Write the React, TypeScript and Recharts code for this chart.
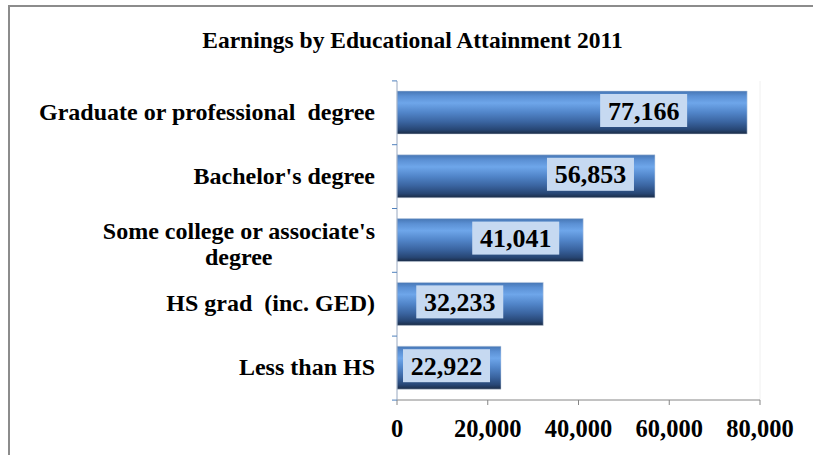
import React from 'react';
import { BarChart, Bar, XAxis, YAxis, LabelList, ReferenceLine } from 'recharts';

// 各學歷類別與 2011 年收入
const categories = [
  'Graduate or professional  degree',
  "Bachelor's degree",
  "Some college or associate's\ndegree",
  'HS grad  (inc. GED)',
  'Less than HS',
];
const earnings = [77166, 56853, 41041, 32233, 22922];
const xTicks = [0, 20000, 40000, 60000, 80000];

const data = categories.map((name, i) => ({ name, value: earnings[i] }));

const FONT = "'Liberation Serif', 'DejaVu Serif', serif";
// 標籤框右緣離長條末端的距離（原圖各標籤位置不一）
const LABEL_GAP = [60, 21, 24, 40, 11];

const fmt = (v: number) => v.toLocaleString('en-US');

let ctx: CanvasRenderingContext2D | null = null;
const measure = (text: string, font: string) => {
  if (!ctx) ctx = document.createElement('canvas').getContext('2d');
  if (!ctx) return text.length * 10;
  ctx.font = font;
  return ctx.measureText(text).width;
};

const CategoryTick = (props: any) => {
  const { x, y, payload, index } = props;
  const lines = String(payload.value).split('\n');
  const right = x - 22;
  const size = 24;
  const font = `bold ${size}px ${FONT}`;
  const marks = (
    <g stroke="#4f81bd" strokeWidth={1}>
      <line x1={x - 5} x2={x} y1={y - 32} y2={y - 32} />
      {index === categories.length - 1 && <line x1={x - 5} x2={x} y1={y + 32} y2={y + 32} />}
    </g>
  );
  if (lines.length === 1) {
    return (
      <g>
        {marks}
        <text x={right} y={y + 7} textAnchor="end" fontFamily={FONT} fontWeight="bold" fontSize={size} fill="#000" style={{ whiteSpace: 'pre' }}>
          {lines[0]}
        </text>
      </g>
    );
  }
  const w = measure(lines[0], font);
  const cx = right - w / 2;
  return (
    <g>
      {marks}
      <text x={right} y={y - 2} textAnchor="end" fontFamily={FONT} fontWeight="bold" fontSize={size} fill="#000">
        {lines[0]}
      </text>
      <text x={cx} y={y + 24} textAnchor="middle" fontFamily={FONT} fontWeight="bold" fontSize={size} fill="#000">
        {lines[1]}
      </text>
    </g>
  );
};

const BarValueLabel = (props: any) => {
  const { x, y, width, height, value, index } = props;
  const boxW = 87;
  const boxH = 33;
  const right = Math.max(x + width - LABEL_GAP[index], x + 2 + boxW);
  const cy = y + height / 2 - 2;
  return (
    <g>
      <rect x={right - boxW} y={cy - boxH / 2} width={boxW} height={boxH} fill="#c6d9f1" />
      <text x={right - boxW / 2} y={cy + 9} textAnchor="middle" fontFamily={FONT} fontWeight="bold" fontSize={26} fill="#000">
        {fmt(value)}
      </text>
    </g>
  );
};

const App: React.FC = () => {
  return (
    <div style={{ position: 'absolute', left: 0, top: 0, width: 813, height: 455, background: '#fff', overflow: 'hidden' }}>
      {/* 外框 */}
      <div style={{ position: 'absolute', left: 8, top: 5, width: 830, height: 470, borderTop: '2px solid #8c8c8c', borderLeft: '2px solid #8c8c8c' }} />
      <div style={{ position: 'absolute', left: 0, top: 27, width: 813, paddingLeft: 12, boxSizing: 'border-box', textAlign: 'center', fontFamily: FONT, fontWeight: 'bold', fontSize: 23.5, color: '#000' }}>
        Earnings by Educational Attainment 2011
      </div>
      <div style={{ position: 'absolute', left: 0, top: 0 }}>
        <BarChart
          width={813}
          height={455}
          data={data}
          layout="vertical"
          margin={{ top: 81, right: 53, bottom: 0, left: 0 }}
          barSize={43}
        >
          <defs>
            <linearGradient id="barGrad" x1="0" y1="0" x2="0" y2="1">
              <stop offset="0%" stopColor="#4676b4" />
              <stop offset="12%" stopColor="#5b90d4" />
              <stop offset="28%" stopColor="#6ea6ea" />
              <stop offset="50%" stopColor="#5185c9" />
              <stop offset="72%" stopColor="#3a64a0" />
              <stop offset="90%" stopColor="#274674" />
              <stop offset="100%" stopColor="#1a2b45" />
            </linearGradient>
          </defs>
          <XAxis
            type="number"
            domain={[0, 80000]}
            ticks={xTicks}
            tickFormatter={fmt}
            height={55}
            stroke="#868686"
            tickSize={5}
            tickMargin={15}
            tick={{ fill: '#000', fontFamily: FONT, fontWeight: 'bold', fontSize: 24.5 }}
          />
          <YAxis
            type="category"
            dataKey="name"
            width={397}
            stroke="#98a8c0"
            tickLine={false}
            tickSize={0}
            tickMargin={0}
            tick={<CategoryTick />}
            interval={0}
          />
          <ReferenceLine x={80000} stroke="#f0f0f0" />
          <Bar dataKey="value" fill="url(#barGrad)" stroke="#c8d4e4" strokeWidth={0.5} isAnimationActive={false}>
            <LabelList dataKey="value" content={<BarValueLabel />} />
          </Bar>
        </BarChart>
      </div>
    </div>
  );
};

export default App;
